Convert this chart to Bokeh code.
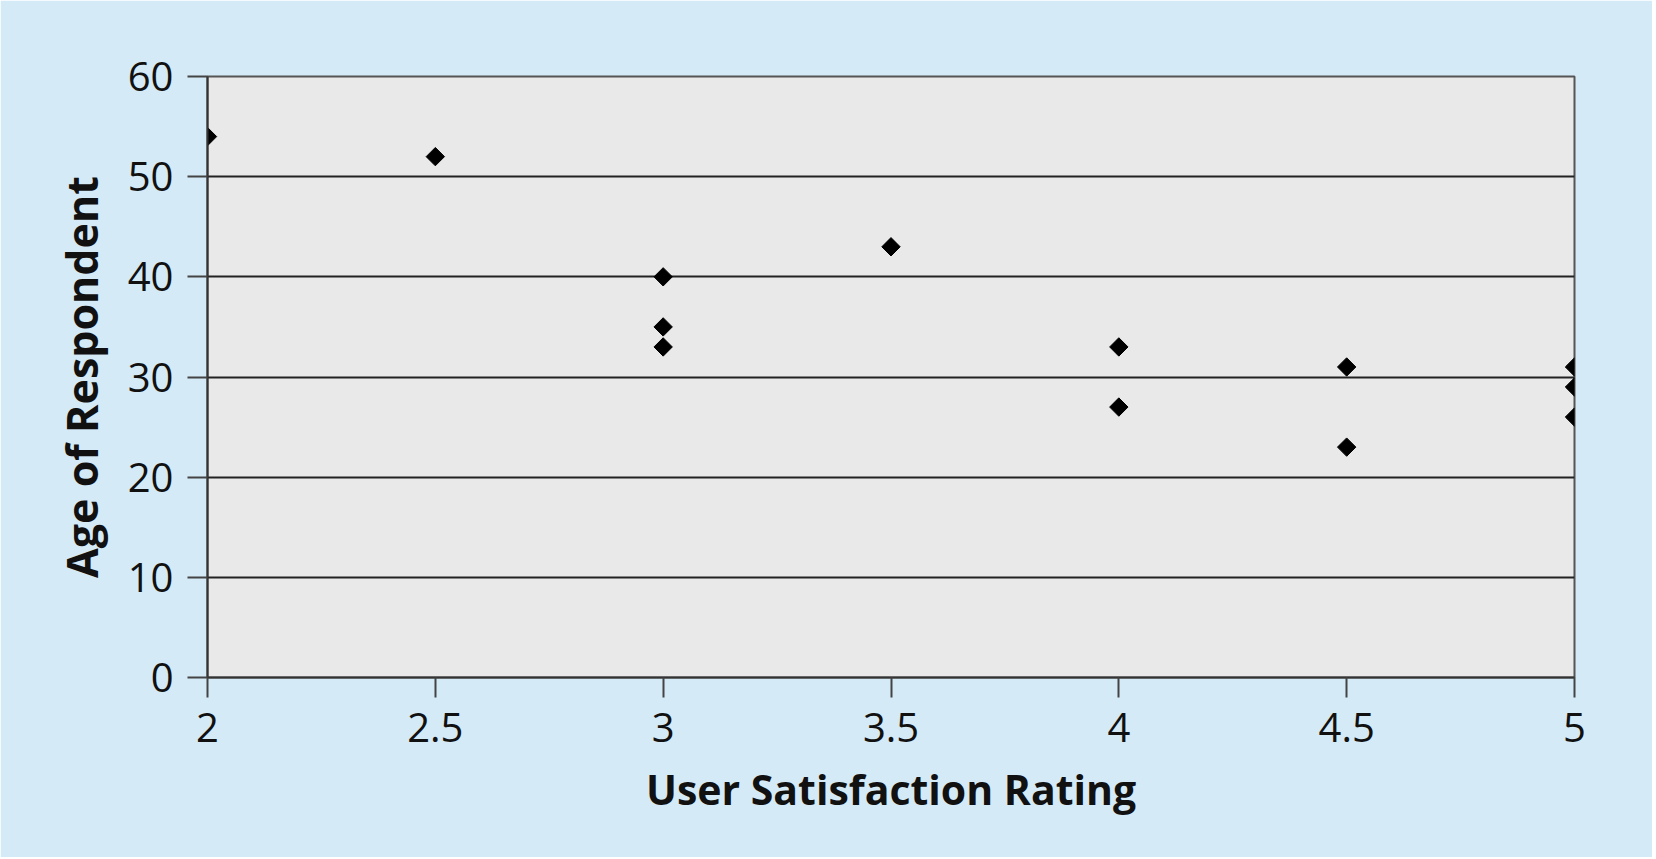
from bokeh.plotting import figure
from bokeh.models import Range1d, FixedTicker
from bokeh.embed import file_html
from bokeh.resources import INLINE
import math

# Data
satisfaction = [2, 2.5, 3, 3, 3, 3.5, 4, 4, 4.5, 4.5, 5, 5, 5]
age = [54, 52, 40, 35, 33, 43, 33, 27, 31, 23, 31, 29, 26]

x_ticks = [2, 2.5, 3, 3.5, 4, 4.5, 5]
x_tick_labels = ["2", "2.5", "3", "3.5", "4", "4.5", "5"]
y_ticks = [0, 10, 20, 30, 40, 50, 60]
y_tick_labels = ["0", "10", "20", "30", "40", "50", "60"]

x_title = "User Satisfaction Rating"
y_title = "Age of Respondent"

BLUE = "#d4eaf7"
PLOT_BG = "#e9e9e9"
FONT = "Open Sans"

p = figure(
    width=1652, height=857,
    output_backend="svg", toolbar_location=None,
    x_range=Range1d(2, 5), y_range=Range1d(0, 60),
    min_border_left=207, min_border_right=78,
    min_border_top=76, min_border_bottom=180,
)
p.background_fill_color = PLOT_BG
p.border_fill_color = BLUE
p.outline_line_color = "#555555"
p.outline_line_width = 2

p.scatter(satisfaction, age, marker="square", size=13, angle=math.pi / 4,
          fill_color="black", line_color="black")

# grids
p.xgrid.visible = False
p.ygrid.ticker = FixedTicker(ticks=y_ticks)
p.ygrid.grid_line_color = "#222222"
p.ygrid.grid_line_width = 2

for ax, ticks, labels, title in ((p.xaxis[0], x_ticks, x_tick_labels, x_title),
                                 (p.yaxis[0], y_ticks, y_tick_labels, y_title)):
    ax.ticker = FixedTicker(ticks=ticks)
    ax.major_label_overrides = {t: l for t, l in zip(ticks, labels)}
    ax.minor_tick_line_color = None
    ax.major_tick_in = 0
    ax.major_tick_out = 20
    ax.major_tick_line_color = "#444444"
    ax.major_tick_line_width = 2
    ax.axis_line_color = "#333333"
    ax.axis_line_width = 2
    ax.major_label_text_font = FONT
    ax.major_label_text_font_size = "40px"
    ax.major_label_text_color = "#111111"
    ax.axis_label = title
    ax.axis_label_text_font = FONT
    ax.axis_label_text_font_style = "bold"
    ax.axis_label_text_color = "#111111"

p.xaxis.axis_label_text_font_size = "41px"
p.yaxis.axis_label_text_font_size = "43px"
p.xaxis.major_label_standoff = 15
p.xaxis.axis_label_standoff = 16
p.yaxis.major_label_standoff = 14
p.yaxis.axis_label_standoff = 14

open("out.html", "w").write(file_html(p, INLINE))
